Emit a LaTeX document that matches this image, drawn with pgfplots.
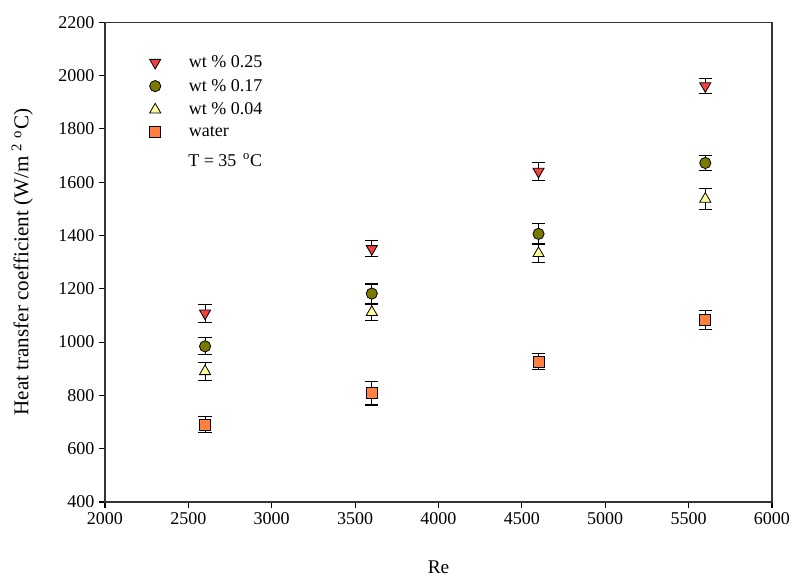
\documentclass[border=0pt]{standalone}
\usepackage{fontspec}
\setmainfont{Liberation Serif}
\usepackage{pgfplots}
\pgfplotsset{compat=1.18}
\definecolor{cred}{HTML}{F04040}
\definecolor{colive}{HTML}{7A7A00}
\definecolor{cyel}{HTML}{FFFF99}
\definecolor{corg}{HTML}{FF7F40}
\begin{document}
\begin{tikzpicture}
\path[use as bounding box] (-78.75pt,-56.25pt) rectangle (516pt,376.5pt);
\begin{axis}[
  at={(0,0)}, anchor=south west,
  scale only axis, width=500.25pt, height=359.8pt,
  xmin=2000, xmax=6000, ymin=400, ymax=2200,
  xtick={2000,2500,...,6000}, ytick={400,600,...,2200},
  tick align=outside, tick pos=left, major tick length=4.5pt,
  axis line style={line width=0.9pt, draw=black!80},
  every tick/.style={line width=0.8pt, black},
  /pgf/number format/assume math mode=true,
  /pgf/number format/set thousands separator={},
  tick label style={font=\fontsize{13.5}{15}\selectfont},
  xlabel={Re}, ylabel={Heat transfer coefficient (W/m \textsuperscript{2} \textsuperscript{o}C)},
  xlabel style={font=\fontsize{14.5}{16}\selectfont, at={(axis description cs:0.5,0)}, anchor=center, yshift=-48.75pt},
  ylabel style={font=\fontsize{15.8}{17}\selectfont, at={(axis description cs:0,0.5)}, anchor=center, yshift=62pt},
  legend style={draw=none, fill=none, at={(axis cs:2242,2096)}, anchor=north west,
    font=\fontsize{13.5}{15}\selectfont, row sep=3.2pt, legend cell align=left,
    /tikz/every odd column/.append style={column sep=19pt}},
  legend image code/.code={\draw[mark repeat=2,mark phase=2] plot coordinates {(0cm,0cm) (0.3cm,0cm) (0.6cm,0cm)};},
  error bars/y dir=both, error bars/y explicit,
  error bars/error bar style={line width=0.8pt, black},
  error bars/error mark options={rotate=90, mark size=5pt, line width=0.8pt, black},
]
\addplot[only marks, mark=triangle*, mark size=4.8pt, mark options={rotate=180, fill=cred, draw=black, line width=0.6pt}]
  coordinates {(2600,1108) +- (0,34) (3600,1350) +- (0,30) (4600,1640) +- (0,35) (5600,1961) +- (0,27)};
\addlegendentry{wt \% 0.25}
\addplot[only marks, mark=*, mark size=4.2pt, mark options={fill=colive, draw=black, line width=0.6pt}]
  coordinates {(2600,984) +- (0,32) (3600,1182) +- (0,36) (4600,1406) +- (0,38) (5600,1672) +- (0,28)};
\addlegendentry{wt \% 0.17}
\addplot[only marks, mark=triangle*, mark size=4.8pt, mark options={fill=cyel, draw=black, line width=0.6pt}]
  coordinates {(2600,890) +- (0,33) (3600,1112) +- (0,31) (4600,1333) +- (0,36) (5600,1537) +- (0,38)};
\addlegendentry{wt \% 0.04}
\addplot[only marks, mark=square*, mark size=4.1pt, mark options={fill=corg, draw=black, line width=0.6pt}]
  coordinates {(2600,690) +- (0,30) (3600,808) +- (0,44) (4600,926) +- (0,30) (5600,1082) +- (0,36)};
\addlegendentry{water}
\node[anchor=west, inner sep=0pt, font=\fontsize{13.5}{15}\selectfont] at (axis cs:2498,1683) {T = 35 \textsuperscript{\,o}C};
\end{axis}
\end{tikzpicture}
\end{document}
